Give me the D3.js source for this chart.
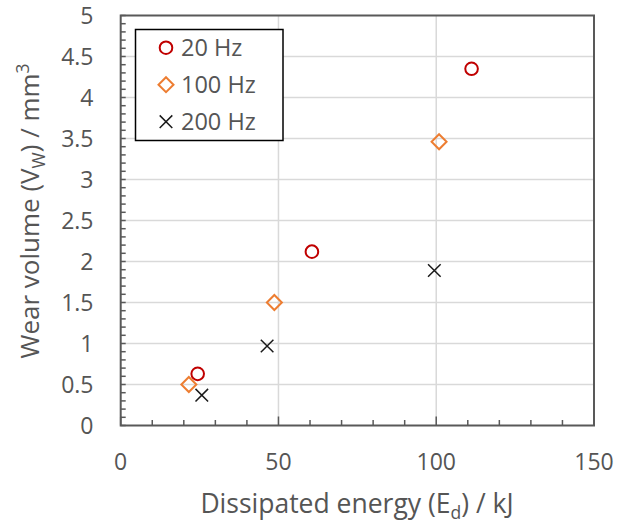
<!DOCTYPE html>
<html>
<head>
<meta charset="utf-8">
<script src="https://cdn.jsdelivr.net/npm/d3@7"></script>
<style>
  html, body { margin: 0; padding: 0; background: #fff; }
  svg { display: block; }
  text { font-family: "Open Sans", "Noto Sans", sans-serif; }
</style>
</head>
<body>
<svg id="chart" width="617" height="524"></svg>
<script>
// ---- data ----
const seriesNames = ["20 Hz", "100 Hz", "200 Hz"];
const energy20 = [24.4, 60.6, 111.2];
const wear20 = [0.63, 2.12, 4.35];
const energy100 = [21.6, 48.7, 100.9];
const wear100 = [0.50, 1.50, 3.46];
const energy200 = [25.7, 46.4, 99.4];
const wear200 = [0.37, 0.97, 1.89];
const xTicks = [0, 50, 100, 150];
const yTicks = [0, 0.5, 1, 1.5, 2, 2.5, 3, 3.5, 4, 4.5, 5];
const yTickLabels = ["0", "0.5", "1", "1.5", "2", "2.5", "3", "3.5", "4", "4.5", "5"];

const svg = d3.select("#chart");
const L = 120.7, R = 594, T = 15.5, B = 425.5;
const x = d3.scaleLinear().domain([0, 150]).range([L, R]);
const y = d3.scaleLinear().domain([0, 5]).range([B, T]);
const textColor = "#555555";
const axisColor = "#595959";

// gridlines
svg.append("g").selectAll("line.gy").data(yTicks.filter(v => v > 0 && v < 5)).join("line")
  .attr("x1", L).attr("x2", R).attr("y1", d => y(d)).attr("y2", d => y(d))
  .attr("stroke", "#d9d9d9").attr("stroke-width", 1.5);
svg.append("g").selectAll("line.gx").data(xTicks.filter(v => v > 0 && v < 150)).join("line")
  .attr("y1", T).attr("y2", B).attr("x1", d => x(d)).attr("x2", d => x(d))
  .attr("stroke", "#d9d9d9").attr("stroke-width", 1.5);

// minor ticks
const xMinor = d3.range(0, 151, 10);
svg.append("g").selectAll("line").data(xMinor).join("line")
  .attr("x1", d => x(d)).attr("x2", d => x(d))
  .attr("y1", B).attr("y2", d => (d % 50 === 0) ? B - 9 : B - 5.5)
  .attr("stroke", axisColor).attr("stroke-width", 1.5);
const yMinor = d3.range(0, 51, 1).map(v => v / 10);
svg.append("g").selectAll("line").data(yMinor).join("line")
  .attr("x1", L).attr("x2", L + 5)
  .attr("y1", d => y(d)).attr("y2", d => y(d))
  .attr("stroke", axisColor).attr("stroke-width", 1.5);

// frame
svg.append("rect").attr("x", L).attr("y", T).attr("width", R - L).attr("height", B - T)
  .attr("fill", "none").attr("stroke", axisColor).attr("stroke-width", 2);

// tick labels
svg.append("g").selectAll("text").data(xTicks).join("text")
  .attr("x", d => x(d)).attr("y", 470)
  .attr("text-anchor", "middle").attr("font-size", 23).attr("fill", textColor)
  .text(d => d);
svg.append("g").selectAll("text").data(yTicks).join("text")
  .attr("x", 93.5).attr("y", d => y(d) + 8.5)
  .attr("text-anchor", "end").attr("font-size", 23).attr("fill", textColor)
  .text((d, i) => yTickLabels[i]);

// axis titles
const xt = svg.append("text").attr("x", 357).attr("y", 513)
  .attr("text-anchor", "middle").attr("font-size", 26.5).attr("fill", textColor);
xt.append("tspan").text("Dissipated energy (E");
xt.append("tspan").attr("font-size", 17.5).attr("dy", 6).text("d");
xt.append("tspan").attr("dy", -6).text(") / kJ");

const yt = svg.append("text").attr("transform", "translate(39,211) rotate(-90)")
  .attr("text-anchor", "middle").attr("font-size", 26).attr("fill", textColor);
yt.append("tspan").text("Wear volume (V");
yt.append("tspan").attr("font-size", 17.5).attr("dy", 6).text("W");
yt.append("tspan").attr("dy", -6).text(") / mm");
yt.append("tspan").attr("font-size", 17.5).attr("dy", -10).text("3");

// markers
const red = "#C00000", orange = "#ED7D31", black = "#1a1a1a";
const d20 = energy20.map((e, i) => ({e, w: wear20[i]}));
const d100 = energy100.map((e, i) => ({e, w: wear100[i]}));
const d200 = energy200.map((e, i) => ({e, w: wear200[i]}));

function circleM(g, cx, cy) {
  g.append("circle").attr("cx", cx).attr("cy", cy).attr("r", 6.3)
    .attr("fill", "none").attr("stroke", red).attr("stroke-width", 2);
}
function diamondM(g, cx, cy) {
  const s = 7.5;
  g.append("path").attr("d", `M${cx},${cy - s}L${cx + s},${cy}L${cx},${cy + s}L${cx - s},${cy}Z`)
    .attr("fill", "none").attr("stroke", orange).attr("stroke-width", 2);
}
function crossM(g, cx, cy) {
  const s = 6.3;
  g.append("path").attr("d", `M${cx - s},${cy - s}L${cx + s},${cy + s}M${cx - s},${cy + s}L${cx + s},${cy - s}`)
    .attr("fill", "none").attr("stroke", black).attr("stroke-width", 1.5);
}
const gm = svg.append("g");
d20.forEach(d => circleM(gm, x(d.e), y(d.w)));
d100.forEach(d => diamondM(gm, x(d.e), y(d.w)));
d200.forEach(d => crossM(gm, x(d.e), y(d.w)));

// legend
const lg = svg.append("g");
lg.append("rect").attr("x", 135.5).attr("y", 29.5).attr("width", 147.5).attr("height", 111)
  .attr("fill", "#fff").attr("stroke", "#000").attr("stroke-width", 1.5);
const makers = [circleM, diamondM, crossM];
seriesNames.forEach((name, i) => {
  const cy = 47.7 + i * 37;
  makers[i](lg, 166, cy);
  lg.append("text").attr("x", 181).attr("y", cy + 7.8)
    .attr("font-size", 23.5).attr("fill", textColor).text(name);
});
</script>
</body>
</html>
